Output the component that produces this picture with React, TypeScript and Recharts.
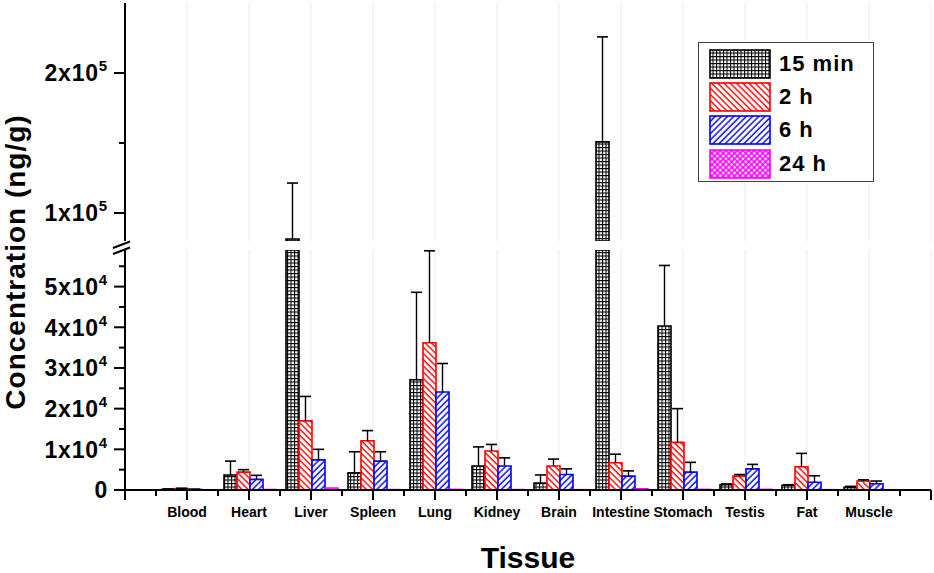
import { Bar, BarChart, CartesianGrid, Label, Legend, Rectangle, XAxis, YAxis } from 'recharts'

const tissues = ['Blood', 'Heart', 'Liver', 'Spleen', 'Lung', 'Kidney', 'Brain', 'Intestine', 'Stomach', 'Testis', 'Fat', 'Muscle']

// mean and SD per time point (ng/g)
const min15 = [200, 3700, 81400, 4200, 27100, 5900, 1700, 150800, 40300, 1300, 1150, 650]
const min15Sd = [60, 3400, 40000, 5200, 21500, 4700, 2000, 75000, 14900, 200, 150, 250]
const h2 = [350, 4400, 17000, 12100, 36200, 9600, 5900, 6700, 11700, 3400, 5700, 2200]
const h2Sd = [80, 600, 6000, 2500, 22600, 1600, 1700, 2100, 8300, 400, 3300, 300]
const h6 = [150, 2600, 7400, 7100, 24100, 5900, 3800, 3400, 4400, 5200, 1900, 1550]
const h6Sd = [50, 1000, 2600, 2300, 7000, 2000, 1400, 1300, 2400, 1100, 1600, 650]
const h24 = [60, 120, 500, 100, 150, 100, 80, 300, 150, 150, 80, 60]

const lowTicks = [0, 5000, 10000, 15000, 20000, 25000, 30000, 35000, 40000, 45000, 50000, 55000]
const highTicks = [100000, 150000, 200000]

const LOW_MAX = 59000
const HIGH_MIN = 80000
const HIGH_MAX = 250000

const FONT = '"Liberation Sans", Arial, Helvetica, sans-serif'
const W = 934
const PLOT_LEFT = 125
const PLOT_RIGHT = 931
const PAD = 31
const BAND = (PLOT_RIGHT - PLOT_LEFT - 2 * PAD) / tissues.length

const series = [
  { key: 'm15', name: '15 min', fill: 'url(#p15)', stroke: '#000000', err: true },
  { key: 'h2', name: '2 h', fill: 'url(#p2)', stroke: '#ff0000', err: true },
  { key: 'h6', name: '6 h', fill: 'url(#p6)', stroke: '#0000ff', err: true },
  { key: 'h24', name: '24 h', fill: 'url(#p24)', stroke: '#ff00ff', err: false },
]

const lowRows = tissues.map((tissue, i) => ({
  tissue,
  m15: min15[i],
  m15e: min15Sd[i],
  h2: h2[i],
  h2e: h2Sd[i],
  h6: h6[i],
  h6e: h6Sd[i],
  h24: h24[i],
}))

const above = (v: number) => (v > HIGH_MIN ? v : null)
const highRows = tissues.map((tissue, i) => ({
  tissue,
  m15: above(min15[i]),
  m15e: above(min15[i]) === null ? null : min15Sd[i],
  h2: above(h2[i]),
  h2e: above(h2[i]) === null ? null : h2Sd[i],
  h6: above(h6[i]),
  h6e: above(h6[i]) === null ? null : h6Sd[i],
  h24: above(h24[i]),
}))

// stacked values get truncated to the domain, so skip the flat leftovers
function BarShape(props: any) {
  if (props.height == null || Math.abs(props.height) < 0.05) return null
  return <Rectangle {...props} />
}

function Whisker(props: any) {
  const { x, y, width, height } = props
  if (x == null || y == null || !width || height == null || Math.abs(height) < 0.05) return null
  const cx = x + width / 2
  return (
    <g>
      <line x1={cx} x2={cx} y1={y + height} y2={y} stroke="#000" strokeWidth={1.4} />
      <line x1={cx - 5.5} x2={cx + 5.5} y1={y} y2={y} stroke="#000" strokeWidth={1.6} />
    </g>
  )
}

function renderBars() {
  const out: any[] = []
  series.forEach((s) => {
    out.push(
      <Bar
        key={s.key}
        dataKey={s.key}
        name={s.name}
        stackId={s.key}
        fill={s.fill}
        stroke={s.stroke}
        strokeWidth={1.6}
        shape={<BarShape />}
        isAnimationActive={false}
      />
    )
    if (s.err) {
      out.push(
        <Bar
          key={s.key + 'e'}
          dataKey={s.key + 'e'}
          stackId={s.key}
          fill="none"
          legendType="none"
          shape={<Whisker />}
          isAnimationActive={false}
        />
      )
    }
  })
  return out
}

function sci(v: number) {
  if (v === 0) return '0'
  const exp = Math.floor(Math.log10(v) + 1e-9)
  const m = Math.round(v / Math.pow(10, exp))
  return (
    <>
      {m}x10
      <tspan dy={-10} fontSize={15}>
        {exp}
      </tspan>
    </>
  )
}

const makeYTick = (step: number) => (props: any) => {
  const { x, y, payload } = props
  const v = payload.value
  const major = v % step === 0
  return (
    <g>
      <line x1={x - (major ? 11 : 6)} x2={x} y1={y} y2={y} stroke="#000" strokeWidth={2} />
      {major && (
        <text
          x={x - 17}
          y={y}
          dy="0.36em"
          textAnchor="end"
          fontFamily={FONT}
          fontWeight="bold"
          fontSize={23}
          letterSpacing={0.8}
          fill="#000"
        >
          {sci(v)}
        </text>
      )}
    </g>
  )
}

const LowTick = makeYTick(10000)
const HighTick = makeYTick(100000)

function TissueTick(props: any) {
  const { x, y, payload } = props
  const idx = payload.index ?? props.index
  const last = idx === tissues.length - 1
  return (
    <g>
      <line x1={x} x2={x} y1={y} y2={y + 10} stroke="#000" strokeWidth={2} />
      <line x1={x - BAND / 2} x2={x - BAND / 2} y1={y} y2={y + 6} stroke="#000" strokeWidth={2} />
      {idx === 0 && <line x1={x - BAND} x2={x - BAND} y1={y} y2={y + 10} stroke="#000" strokeWidth={2} />}
      {last && <line x1={x + BAND / 2} x2={x + BAND / 2} y1={y} y2={y + 6} stroke="#000" strokeWidth={2} />}
      {last && <line x1={x + BAND} x2={x + BAND} y1={y} y2={y + 10} stroke="#000" strokeWidth={2} />}
      <text x={x} y={y + 27} textAnchor="middle" fontFamily={FONT} fontWeight="bold" fontSize={14} fill="#000">
        {payload.value}
      </text>
    </g>
  )
}

function YTitle() {
  return (
    <text
      x={15}
      y={262}
      transform="rotate(-90, 15, 262)"
      textAnchor="middle"
      dominantBaseline="central"
      fontFamily={FONT}
      fontWeight="bold"
      fontSize={28}
      letterSpacing={1}
      fill="#000"
    >
      Concentration (ng/g)
    </text>
  )
}

function LegendBox() {
  return (
    <div
      style={{
        width: 176,
        height: 140,
        border: '1.5px solid #444',
        boxSizing: 'border-box',
        background: '#fff',
        padding: '4px 0 0 10px',
      }}
    >
      {series.map((s) => (
        <div key={s.key} style={{ display: 'flex', alignItems: 'center', height: 33.3 }}>
          <svg width={62} height={30} style={{ display: 'block' }}>
            <rect x={1} y={1} width={60} height={28} fill={s.fill} stroke={s.stroke} strokeWidth={1.6} />
          </svg>
          <span style={{ marginLeft: 8, fontFamily: FONT, fontWeight: 'bold', fontSize: 22, letterSpacing: 1, color: '#000' }}>
            {s.name}
          </span>
        </div>
      ))}
    </div>
  )
}

function Patterns() {
  return (
    <defs>
      <pattern id="p15" width={3.5} height={3.5} patternUnits="userSpaceOnUse">
        <rect width={3.5} height={3.5} fill="#fff" />
        <path d="M0 0.5 H3.5 M0.5 0 V3.5" stroke="#000" strokeWidth={1.1} />
      </pattern>
      <pattern id="p2" width={4.4} height={4.4} patternUnits="userSpaceOnUse" patternTransform="rotate(-45)">
        <rect width={4.4} height={4.4} fill="#fff" />
        <line x1={1} y1={0} x2={1} y2={4.4} stroke="#ff0000" strokeWidth={1.4} />
      </pattern>
      <pattern id="p6" width={4.4} height={4.4} patternUnits="userSpaceOnUse" patternTransform="rotate(45)">
        <rect width={4.4} height={4.4} fill="#fff" />
        <line x1={1} y1={0} x2={1} y2={4.4} stroke="#0000ff" strokeWidth={1.4} />
      </pattern>
      <pattern id="p24" width={4} height={4} patternUnits="userSpaceOnUse" patternTransform="rotate(45)">
        <rect width={4} height={4} fill="#fff" />
        <path d="M0 1 H4 M1 0 V4" stroke="#ff00ff" strokeWidth={1.6} />
      </pattern>
    </defs>
  )
}

export default function App() {
  return (
    <div style={{ position: 'relative', width: W, height: 573, background: '#fff' }}>
      <style>{'body{margin:0}'}</style>
      <div style={{ position: 'absolute', left: 0, top: 0 }}>
        <BarChart
          width={W}
          height={573}
          data={lowRows}
          margin={{ top: 250, right: W - PLOT_RIGHT, bottom: 0, left: 0 }}
          barCategoryGap={6}
          barGap={0}
        >
          <Patterns />
          <CartesianGrid vertical horizontal={false} stroke="#ececec" />
          <XAxis
            dataKey="tissue"
            height={83}
            padding={{ left: PAD, right: PAD }}
            interval={0}
            tickSize={0}
            tickMargin={0}
            tick={<TissueTick />}
            axisLine={{ stroke: '#000', strokeWidth: 2 }}
            tickLine={false}
          >
            <Label
              value="Tissue"
              position="insideBottom"
              offset={5}
              style={{ fontFamily: FONT, fontWeight: 'bold', fontSize: 30, fill: '#000' }}
            />
          </XAxis>
          <YAxis
            type="number"
            width={PLOT_LEFT}
            domain={[0, LOW_MAX]}
            ticks={lowTicks}
            interval={0}
            allowDataOverflow
            tickSize={0}
            tickMargin={0}
            tick={<LowTick />}
            tickLine={false}
            axisLine={{ stroke: '#000', strokeWidth: 2 }}
          >
            <Label content={<YTitle />} />
          </YAxis>
          {renderBars()}
        </BarChart>
      </div>
      <div style={{ position: 'absolute', left: 0, top: 0 }}>
        <BarChart
          width={W}
          height={245}
          data={highRows}
          margin={{ top: 3, right: W - PLOT_RIGHT, bottom: 4, left: 0 }}
          barCategoryGap={6}
          barGap={0}
        >
          <CartesianGrid vertical horizontal={false} stroke="#ececec" />
          <XAxis dataKey="tissue" hide padding={{ left: PAD, right: PAD }} />
          <YAxis
            type="number"
            width={PLOT_LEFT}
            domain={[HIGH_MIN, HIGH_MAX]}
            ticks={highTicks}
            interval={0}
            allowDataOverflow
            tickSize={0}
            tickMargin={0}
            tick={<HighTick />}
            tickLine={false}
            axisLine={{ stroke: '#000', strokeWidth: 2 }}
          />
          <Legend
            layout="horizontal"
            align="center"
            verticalAlign="middle"
            content={<LegendBox />}
            wrapperStyle={{ left: 698, top: 42, width: 176, height: 140 }}
          />
          {renderBars()}
        </BarChart>
      </div>
      <svg width={W} height={573} style={{ position: 'absolute', left: 0, top: 0, pointerEvents: 'none' }}>
        <line x1={113} y1={248} x2={130} y2={241.5} stroke="#000" strokeWidth={2} />
        <line x1={113} y1={254} x2={130} y2={247.5} stroke="#000" strokeWidth={2} />
      </svg>
    </div>
  )
}
